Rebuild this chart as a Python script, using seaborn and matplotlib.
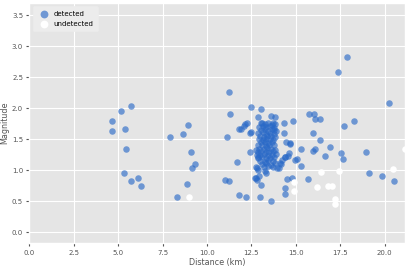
import numpy as np
import pandas as pd
import matplotlib
matplotlib.use('Agg')
import matplotlib.pyplot as plt
import seaborn as sns

# detected events: distance (km), magnitude
det_dist = [5.15, 4.64, 4.64, 5.41, 5.47, 5.35, 5.72, 5.72, 6.13, 6.29,
            8.94, 8.66, 7.94, 9.13, 9.35, 9.17, 8.87, 8.32,
            11.03, 11.23, 11.27, 11.14, 11.30, 11.70, 11.80, 12.21, 12.98, 13.63,
            12.42, 12.77, 12.92, 13.07, 12.79, 12.49, 13.04, 12.88, 13.58, 13.86,
            11.83, 12.17, 12.25, 12.42, 13.11, 14.33, 14.84, 12.11, 11.91,
            13.73, 13.75, 14.33, 14.46, 14.65, 12.86, 13.32, 14.03, 14.18, 14.37,
            14.59, 14.97, 14.50, 14.78, 12.83, 14.37, 14.37, 12.49, 14.69, 14.41,
            14.22, 14.13, 13.95, 12.81, 12.72, 13.28, 12.77, 12.90, 14.61,
            17.90, 17.39, 20.25, 15.76, 16.04, 16.06, 16.36, 17.71, 18.29, 15.98,
            16.34, 15.27, 16.06, 15.97, 16.92, 16.64, 17.56, 17.67, 18.95, 15.08,
            15.27, 15.68, 19.12, 19.85, 20.53]
det_mag = [1.95, 1.80, 1.64, 1.67, 1.35, 0.96, 2.04, 0.82, 0.87, 0.75,
           1.73, 1.58, 1.54, 1.29, 1.10, 1.03, 0.78, 0.57,
           0.84, 0.82, 2.27, 1.53, 1.91, 1.14, 0.60, 0.57, 0.57, 0.50,
           1.29, 0.87, 0.90, 0.76, 1.05, 2.02, 1.99, 1.86, 1.88, 1.86,
           1.67, 1.74, 1.76, 1.60, 1.76, 1.77, 1.80, 1.72, 1.67,
           1.77, 1.65, 1.60, 1.46, 1.42, 1.00, 0.96, 1.03, 1.10, 1.21,
           1.23, 1.17, 0.86, 0.88, 0.85, 0.72, 0.62, 1.61, 1.44, 1.22,
           1.17, 1.11, 1.03, 1.03, 0.87, 0.98, 1.33, 1.22, 1.27,
           2.82, 2.59, 2.09, 1.90, 1.90, 1.82, 1.83, 1.72, 1.79, 1.60,
           1.48, 1.35, 1.35, 1.31, 1.38, 1.23, 1.27, 1.18, 1.29, 1.18,
           1.07, 0.86, 0.96, 0.91, 0.83]

# dense cluster near 13.4 km
core_dist = [13.05, 13.25, 13.45, 13.65, 13.85,
             12.95, 13.15, 13.35, 13.55, 13.75,
             13.05, 13.25, 13.45, 13.65, 13.90,
             12.90, 13.15, 13.35, 13.55, 13.75,
             13.00, 13.20, 13.40, 13.60, 13.85,
             12.95, 13.15, 13.35, 13.55, 13.70,
             13.05, 13.25, 13.45, 13.65,
             12.85, 13.10, 13.30, 13.50, 13.75,
             12.95, 13.20, 13.40, 13.60, 13.85,
             12.85, 13.05, 13.30, 13.50, 13.70,
             12.80, 13.00, 13.20, 13.45, 13.65, 13.90,
             12.90, 13.10, 13.35, 13.55, 13.80,
             13.00, 13.25, 13.45, 13.70,
             13.10, 13.35, 13.60, 13.85,
             13.20, 13.45, 13.70]
core_mag = [1.76, 1.74, 1.77, 1.73, 1.75,
            1.70, 1.71, 1.69, 1.72, 1.68,
            1.65, 1.66, 1.64, 1.66, 1.63,
            1.60, 1.61, 1.59, 1.60, 1.58,
            1.55, 1.54, 1.56, 1.55, 1.53,
            1.50, 1.49, 1.51, 1.50, 1.48,
            1.45, 1.46, 1.44, 1.45,
            1.40, 1.41, 1.39, 1.40, 1.41,
            1.35, 1.34, 1.36, 1.35, 1.33,
            1.30, 1.31, 1.29, 1.30, 1.31,
            1.25, 1.24, 1.26, 1.25, 1.24, 1.26,
            1.20, 1.21, 1.19, 1.20, 1.21,
            1.15, 1.14, 1.16, 1.15,
            1.10, 1.11, 1.09, 1.12,
            1.05, 1.06, 1.05]

# undetected events
und_dist = [9.00, 14.88, 14.88, 16.43, 17.45, 16.17, 16.81, 17.07, 17.20, 17.20, 20.47, 21.15]
und_mag = [0.57, 0.81, 0.67, 0.97, 0.98, 0.73, 0.74, 0.75, 0.54, 0.46, 1.02, 1.34]

det = pd.DataFrame({'Distance (km)': det_dist + core_dist, 'Magnitude': det_mag + core_mag})
und = pd.DataFrame({'Distance (km)': und_dist, 'Magnitude': und_mag})

plt.style.use('ggplot')
plt.rcParams['font.size'] = 5.5

fig, ax = plt.subplots(figsize=(4.07, 2.69), dpi=100)
fig.subplots_adjust(left=0.072, right=0.995, top=0.989, bottom=0.0955)

sns.scatterplot(data=det, x='Distance (km)', y='Magnitude',
                color='#2868c7', alpha=0.63, s=22, linewidth=0, label='detected', ax=ax)
sns.scatterplot(data=und, x='Distance (km)', y='Magnitude',
                color='white', alpha=1.0, s=22, linewidth=0, label='undetected', ax=ax)

ax.set_xlim(0, 21.15)
ax.set_ylim(-0.18, 3.70)
ax.tick_params(labelsize=5, length=2.5, pad=2)
ax.set_xlabel('Distance (km)', fontsize=5.8, labelpad=2)
ax.set_ylabel('Magnitude', fontsize=5.8, labelpad=2)

leg = ax.legend(loc='upper left', fontsize=5, markerscale=1.2, frameon=True,
                facecolor='#ececec', edgecolor='#ececec', framealpha=1,
                borderpad=0.6, handletextpad=0.4, labelspacing=0.6)

fig.savefig('out.png', dpi=100)
